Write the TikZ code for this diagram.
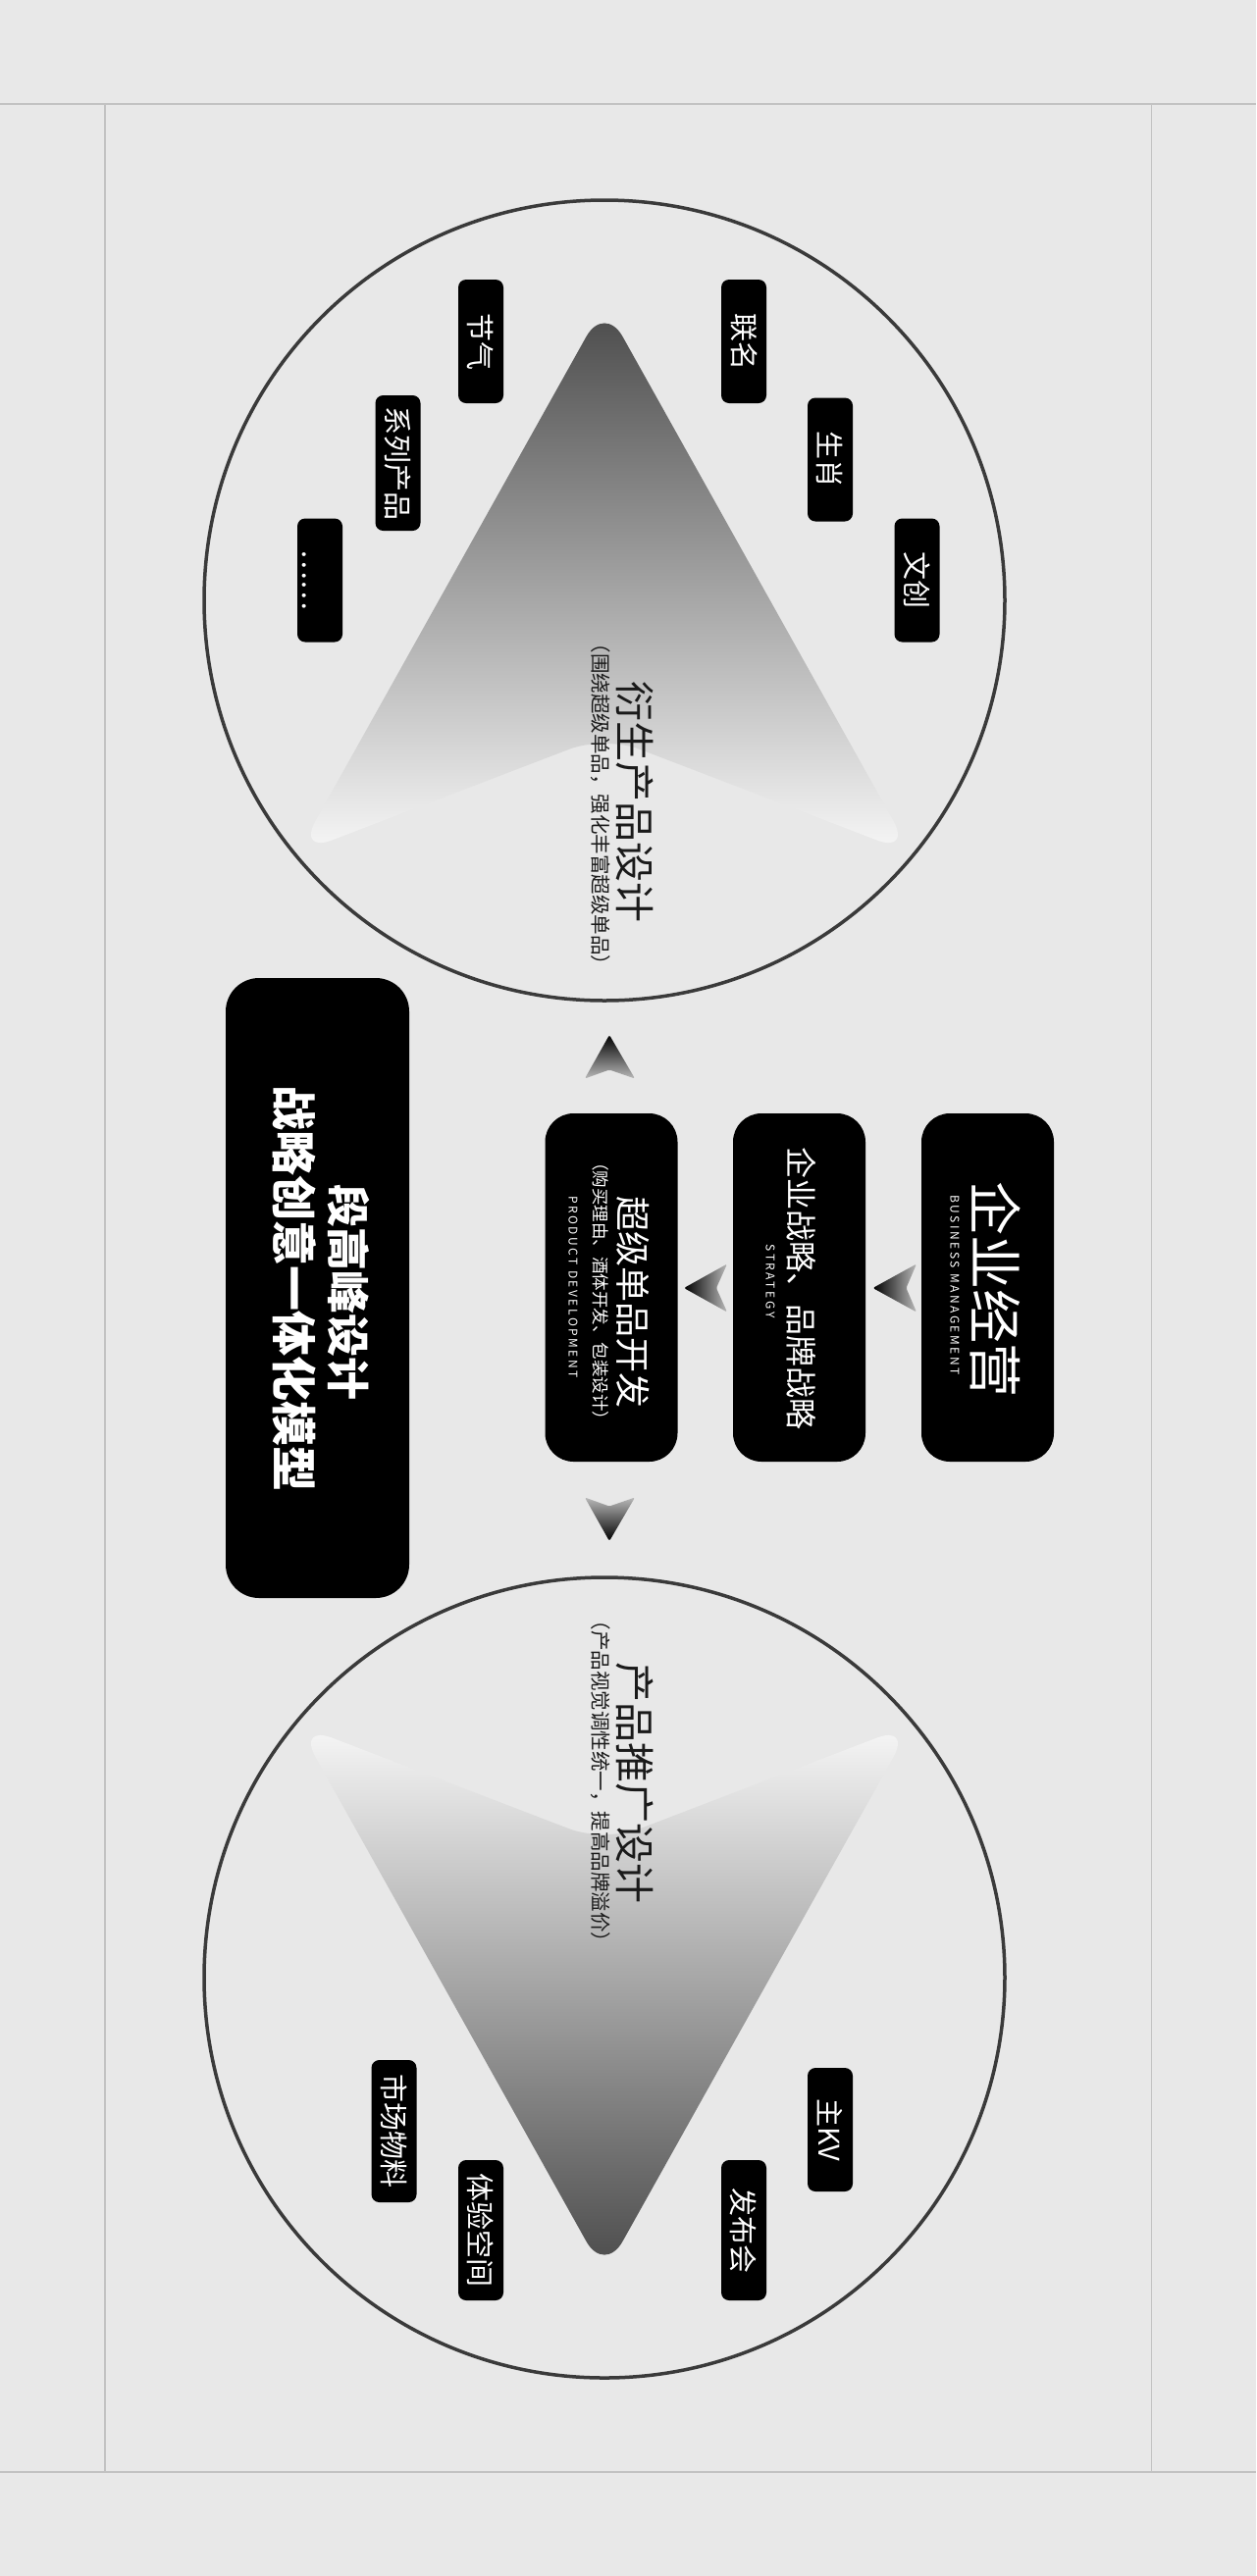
\documentclass[tikz,border=0pt]{standalone}
\usepackage{fontspec}
\setmainfont{Noto Sans CJK SC}
\newfontfamily\capsfont[LetterSpace=21]{Noto Sans CJK SC}
\newcommand{\fs}[1]{\fontsize{#1}{#1}\selectfont}
\definecolor{bg}{HTML}{E8E8E8}
\definecolor{rule}{HTML}{C2C2C2}
\definecolor{ring}{HTML}{3A3A3A}
\definecolor{ink}{HTML}{1A1A1A}
\definecolor{tridark}{HTML}{4A4A4A}
\definecolor{trilight}{HTML}{F7F7F7}
\tikzset{
  tag/.style={rotate=-90, fill=black, text=white, rounded corners=8pt,
    minimum width=126pt, minimum height=46pt, inner sep=0pt, font=\fs{29}},
  card/.style={rotate=-90, fill=black, rounded corners=29pt,
    minimum width=355pt, minimum height=135pt},
  label/.style={rotate=-90, inner sep=0pt},
  caps/.style={rotate=-90, inner sep=0pt, text=white, font=\capsfont\fs{12}},
}

\begin{document}
\begin{tikzpicture}[x=1pt, y=-1pt]
    % Background and frame
    \useasboundingbox (0,0) rectangle (1280,2626);
    \fill[bg] (0,0) rectangle (1280,2626);
    \draw[rule, line width=1.3pt] (0,106) -- (1280,106) (0,2520) -- (1280,2520)
      (107,106) -- (107,2520) (1173.5,106) -- (1173.5,2520);

    % Circles
    \draw[ring, line width=3.5pt] (616,612) circle[radius=408pt];
    \draw[ring, line width=3.5pt] (616,2016) circle[radius=408pt];

    % Big arrowheads
    \shade[top color=tridark, bottom color=trilight] (459.5,810) [rounded corners=38pt]
      -- (303,870) -- (616,310) -- (929,870) -- (616,750) [sharp corners] -- cycle;
    \shade[top color=trilight, bottom color=tridark] (459.5,1818) [rounded corners=38pt]
      -- (303,1758) -- (616,2318) -- (929,1758) -- (616,1878) [sharp corners] -- cycle;

    % Small arrowheads
    \shade[top color=black, bottom color=gray!55, rounded corners=1.5pt]
      (621,1055) -- (647,1099.5) -- (621,1090.5) -- (596,1099.5) -- cycle;
    \shade[top color=gray!55, bottom color=black, rounded corners=1.5pt]
      (621,1571) -- (647,1526.5) -- (621,1535.5) -- (596,1526.5) -- cycle;
    \shade[left color=black, right color=gray!55, rounded corners=1.5pt]
      (697,1313) -- (741,1288.5) -- (730,1313) -- (741,1337.5) -- cycle;
    \shade[left color=black, right color=gray!55, rounded corners=1.5pt]
      (889.5,1313) -- (934,1288.5) -- (923.5,1313) -- (934,1337.5) -- cycle;

    % Model panel
    \node[card, minimum width=632pt, minimum height=187pt, rounded corners=34pt] (model) at (323.5,1313) {};
    \node[label, text=white, font=\bfseries\fs{44}] (modelA) at (355,1317.5) {段高峰设计};
    \node[label, text=white, font=\bfseries\fs{46}] (modelB) at (300,1313) {战略创意一体化模型};

    % Middle cards
    \node[card] (biz) at (1006.5,1312.5) {};
    \node[label, text=white, font=\fs{55}] (bizT) at (1015,1314.5) {企业经营};
    \node[caps] (bizE) at (973,1310) {BUSINESS MANAGEMENT};
    \node[card] (strat) at (814.5,1312.5) {};
    \node[label, text=white, font=\fs{32}] (stratT) at (817,1313) {企业战略、品牌战略};
    \node[caps] (stratE) at (785,1306) {STRATEGY};
    \node[card] (prod) at (623,1312.5) {};
    \node[label, text=white, font=\fs{36}] (prodT) at (645,1327) {超级单品开发};
    \node[label, text=white, font=\fs{17.5}] (prodS) at (612,1316) {（购买理由、酒体开发、包装设计）};
    \node[caps] (prodE) at (584,1312) {PRODUCT DEVELOPMENT};

    % Circle titles
    \node[label, text=ink, font=\fs{41}] (derive) at (647,817) {衍生产品设计};
    \node[label, text=ink, font=\fs{20.5}] (deriveS) at (612,820) {（围绕超级单品，强化丰富超级单品）};
    \node[label, text=ink, font=\fs{41}] (promo) at (647,1817) {产品推广设计};
    \node[label, text=ink, font=\fs{20.5}] (promoS) at (612,1816) {（产品视觉调性统一，提高品牌溢价）};

    % Tags, top circle
    \node[tag] (jieqi) at (490,348) {节气};
    \node[tag] (lianming) at (758,348) {联名};
    \node[tag] (shengxiao) at (846,468.5) {生肖};
    \node[tag] (wenchuang) at (934.5,591.5) {文创};
    \node[tag, minimum width=138pt] (xilie) at (405.5,472) {系列产品};
    \node[tag] (more) at (326,591.5) {\smash{\raisebox{-18pt}{……}}};

    % Tags, bottom circle
    \node[tag, minimum width=145pt] (wuliao) at (401.5,2172.5) {市场物料};
    \node[tag, minimum width=143pt] (kongjian) at (490,2273.5) {体验空间};
    \node[tag] (kv) at (846,2171) {主KV};
    \node[tag, minimum width=143pt] (fabu) at (758,2273.5) {发布会};
\end{tikzpicture}
\end{document}
